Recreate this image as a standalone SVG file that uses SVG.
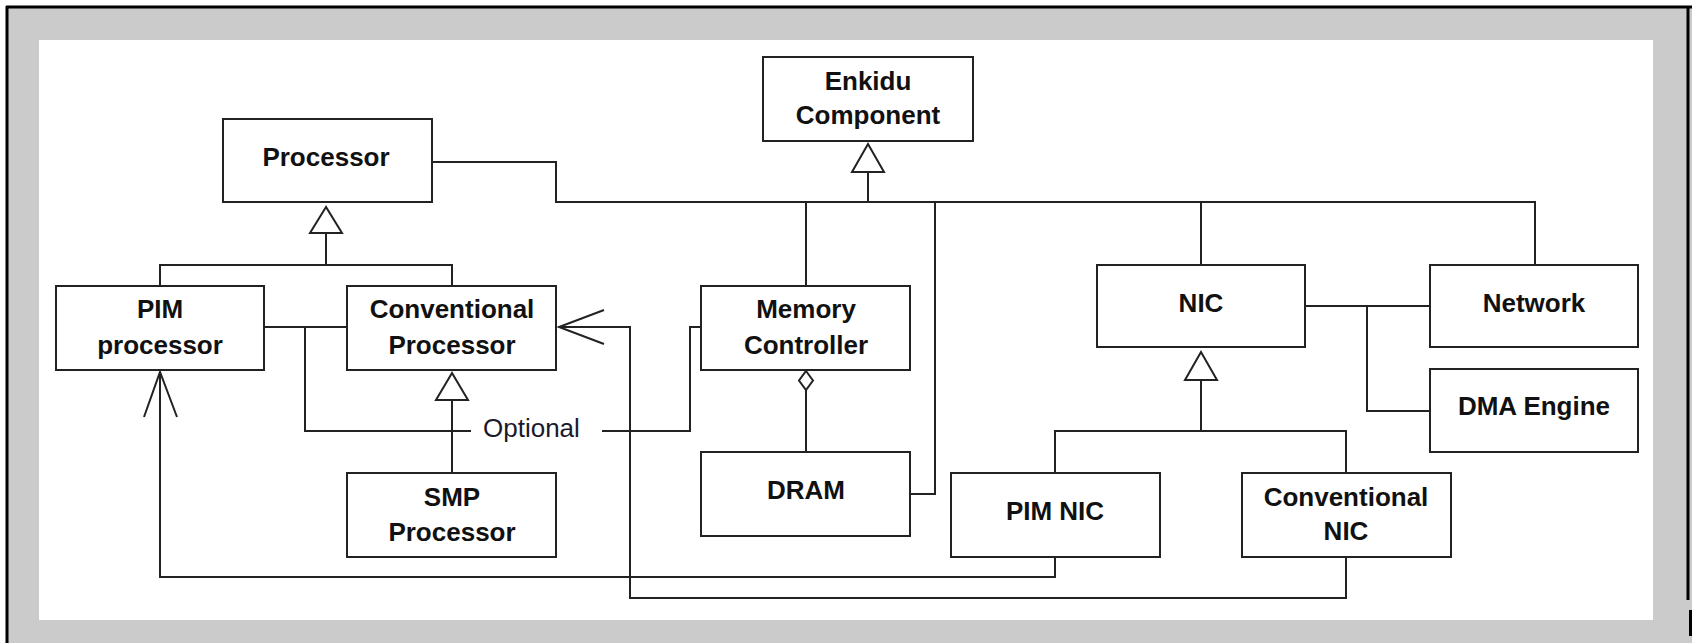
<svg xmlns="http://www.w3.org/2000/svg" width="1692" height="643" viewBox="0 0 1692 643">
<style>
.box{fill:#fff;stroke:#222;stroke-width:2}
.t{font-family:"Liberation Sans",Arial,sans-serif;font-weight:bold;font-size:26px;fill:#111;text-anchor:middle}
.opt{font-family:"Liberation Sans",Arial,sans-serif;font-size:26px;fill:#1a1a2a}
.c{fill:none;stroke:#222;stroke-width:2}
.tri{fill:#fff;stroke:#222;stroke-width:2}
</style>
<rect x="0" y="0" width="1692" height="643" fill="#fff"/>
<rect x="7" y="7" width="1685" height="636" fill="#cbcbcb"/>
<rect x="39" y="40" width="1614" height="580" fill="#fff"/>
<line x1="6" y1="7" x2="1692" y2="7" stroke="#000" stroke-width="3"/>
<line x1="7" y1="6" x2="7" y2="643" stroke="#000" stroke-width="3"/>
<line x1="1688" y1="6" x2="1688" y2="600" stroke="#000" stroke-width="3"/>
<rect x="1689" y="610" width="3" height="26" fill="#000"/>

<g id="connectors">
  <!-- Processor generalization -->
  <path class="c" d="M160,286 V265 H452 V286 M326,265 V233"/>
  <polygon class="tri" points="326,207 310,233 342,233"/>
  <!-- Conventional -> SMP -->
  <path class="c" d="M452,473 V400"/>
  <polygon class="tri" points="452,373 436,400 468,400"/>
  <!-- Enkidu generalization -->
  <path class="c" d="M432,162 H556 V202 H1535 V265 M868,202 V172 M806,202 V286 M935,202 V494 H910 M1201,202 V265"/>
  <polygon class="tri" points="868,144 852,172 884,172"/>
  <!-- NIC generalization -->
  <path class="c" d="M1201,431 V380 M1055,473 V431 H1346 V473"/>
  <polygon class="tri" points="1201,352 1185,380 1217,380"/>
  <!-- NIC - Network - DMA -->
  <path class="c" d="M1305,306 H1430 M1367,306 V411 H1430"/>
  <!-- PIM - Conventional, Optional link to Memory Controller -->
  <path class="c" d="M264,327 H347 M305,327 V431 H471"/>
  <path class="c" d="M602,431 H690 V327 H701"/>
  <text class="opt" x="483" y="437">Optional</text>
  <!-- Memory Controller aggregation DRAM -->
  <path class="c" d="M806,390 V452"/>
  <polygon class="tri" points="806,371 813,380.5 806,390 799,380.5" stroke-width="1.6"/>
  <!-- PIM NIC -> PIM processor -->
  <path class="c" d="M1055,557 V577 H160 V372"/>
  <path class="c" d="M144,417 L160,372 L177,417"/>
  <!-- Conventional NIC -> Conventional Processor -->
  <path class="c" d="M1346,557 V598 H630 V327 H559"/>
  <path class="c" d="M604,310 L559,327 L604,344"/>
</g>

<g id="processor"><rect class="box" x="223" y="119" width="209" height="83"/><text class="t" x="326" y="166">Processor</text></g>
<g id="enkidu"><rect class="box" x="763" y="57" width="210" height="84"/><text class="t" x="868" y="90">Enkidu</text><text class="t" x="868" y="124">Component</text></g>
<g id="pim-processor"><rect class="box" x="56" y="286" width="208" height="84"/><text class="t" x="160" y="318">PIM</text><text class="t" x="160" y="354">processor</text></g>
<g id="conventional-processor"><rect class="box" x="347" y="286" width="209" height="84"/><text class="t" x="452" y="318">Conventional</text><text class="t" x="452" y="354">Processor</text></g>
<g id="smp-processor"><rect class="box" x="347" y="473" width="209" height="84"/><text class="t" x="452" y="506">SMP</text><text class="t" x="452" y="541">Processor</text></g>
<g id="memory-controller"><rect class="box" x="701" y="286" width="209" height="84"/><text class="t" x="806" y="318">Memory</text><text class="t" x="806" y="354">Controller</text></g>
<g id="dram"><rect class="box" x="701" y="452" width="209" height="84"/><text class="t" x="806" y="499">DRAM</text></g>
<g id="nic"><rect class="box" x="1097" y="265" width="208" height="82"/><text class="t" x="1201" y="312">NIC</text></g>
<g id="network"><rect class="box" x="1430" y="265" width="208" height="82"/><text class="t" x="1534" y="312">Network</text></g>
<g id="dma-engine"><rect class="box" x="1430" y="369" width="208" height="83"/><text class="t" x="1534" y="415">DMA Engine</text></g>
<g id="pim-nic"><rect class="box" x="951" y="473" width="209" height="84"/><text class="t" x="1055" y="520">PIM NIC</text></g>
<g id="conventional-nic"><rect class="box" x="1242" y="473" width="209" height="84"/><text class="t" x="1346" y="506">Conventional</text><text class="t" x="1346" y="540">NIC</text></g>
</svg>
